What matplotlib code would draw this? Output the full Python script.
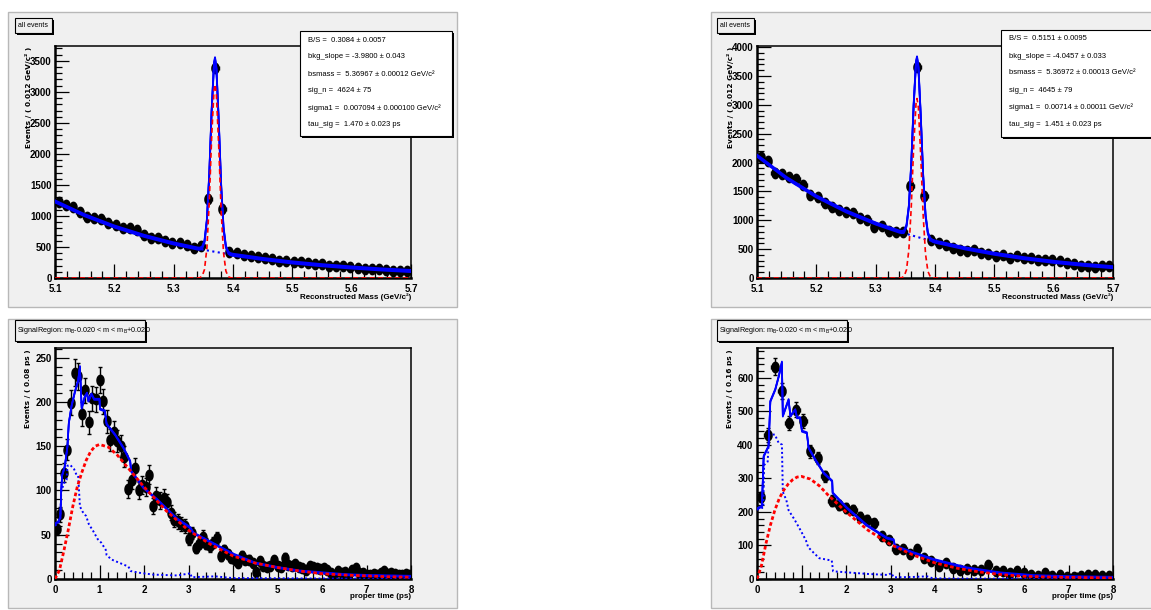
import numpy as np
import matplotlib
matplotlib.use("Agg")
import matplotlib.pyplot as plt
from matplotlib.patches import Rectangle
from matplotlib.path import Path
from matplotlib.ticker import MultipleLocator, FormatStrFormatter
from matplotlib.transforms import offset_copy
from matplotlib import font_manager

# ---------------- data ----------------
# mass fits: 50 bins of 0.012 GeV between 5.1 and 5.7
mass_lo, mass_bin = 5.1, 0.012
mass_left = [1230, 1170, 1140, 1060, 990, 970, 950, 890, 850, 810,
             800, 770, 700, 650, 640, 590, 560, 560, 530, 480,
             520, 1280, 3390, 1120, 420, 400, 370, 350, 340, 330,
             300, 280, 280, 265, 250, 240, 230, 220, 200, 190,
             190, 180, 160, 150, 150, 140, 130, 120, 110, 110]
mass_right = [2090, 2030, 1825, 1808, 1750, 1722, 1607, 1435, 1406, 1291,
              1234, 1176, 1148, 1119, 1033, 1004, 890, 901, 820, 803,
              800, 1595, 3656, 1423, 660, 603, 574, 516, 488, 476,
              488, 430, 413, 373, 402, 344, 373, 344, 344, 316,
              316, 304, 287, 258, 247, 200, 200, 189, 200, 200]

mass_fit_x = [5.10, 5.15, 5.20, 5.25, 5.30, 5.34, 5.344, 5.348, 5.352, 5.356,
              5.360, 5.364, 5.368, 5.3697, 5.372, 5.376, 5.380, 5.384, 5.388, 5.392,
              5.396, 5.40, 5.45, 5.50, 5.55, 5.60, 5.65, 5.70]
bkg_left = [1235, 1012, 830, 680, 557, 475, 468, 460, 453, 446,
            439, 432, 425, 422, 418, 412, 405, 399, 393, 386,
            380, 374, 307, 251, 206, 169, 138, 113]
sig_left = [0, 0, 0, 0, 0, 0.5, 4.5, 29, 139, 485,
            1227, 2261, 3032, 3120, 2960, 2105, 1089, 411, 113, 22,
            3, 0, 0, 0, 0, 0, 0, 0]
bkg_right = [2120, 1732, 1414, 1156, 944, 803, 790, 777, 764, 752,
             740, 729, 717, 712, 706, 694, 683, 672, 661, 651,
             640, 630, 515, 420, 343, 280, 229, 187]
sig_right = [0, 0, 0, 0, 0, 0.5, 5, 31, 144, 492,
             1233, 2262, 3023, 3110, 2953, 2108, 1098, 418, 116, 24,
             4, 0, 0, 0, 0, 0, 0, 0]

# proper time: left 100 bins of 0.08 ps, right 50 bins of 0.16 ps
time_left = [57, 73, 120, 146, 199, 233, 229, 186, 213, 177,
             204, 203, 225, 201, 178, 157, 166, 156, 150, 138,
             102, 112, 125, 100, 106, 104, 118, 82, 94, 89,
             92, 87, 75, 67, 65, 62, 60, 45, 52, 35,
             40, 48, 40, 37, 41, 46, 26, 33, 28, 24,
             21, 18, 26, 21, 22, 18, 8, 20, 15, 13,
             15, 21, 15, 13, 24, 16, 15, 17, 13, 12,
             10, 15, 13, 12, 11, 12, 10, 7, 5, 9,
             7, 8, 6, 10, 12, 7, 7, 5, 5, 6,
             4, 7, 9, 6, 7, 6, 5, 5, 6, 4]
time_right = [245, 430, 633, 560, 466, 505, 471, 381, 361, 306,
              234, 220, 212, 207, 185, 177, 167, 127, 117, 90,
              88, 76, 90, 63, 53, 40, 48, 33, 28, 30,
              28, 26, 43, 25, 23, 18, 23, 18, 13, 8,
              18, 10, 13, 6, 5, 8, 13, 11, 10, 8]

tl_tot_t = [0.00, 0.08, 0.12, 0.14, 0.16, 0.22, 0.28, 0.31, 0.37, 0.45,
            0.52, 0.56, 0.60, 0.67, 0.72, 0.75, 0.82, 0.88, 1.00, 1.01,
            1.12, 1.16, 1.35, 1.54, 1.69, 1.71, 1.99, 2.29, 2.74, 3.04,
            3.11, 3.56, 4.01, 4.50, 5.00, 5.50, 6.00, 6.50, 7.00, 7.50, 8.00]
tl_tot_v = [62, 65, 70, 100, 117, 127, 150, 176, 195, 212,
            224, 240, 193, 206, 210, 201, 209, 203, 203, 192,
            190, 175, 163, 148, 133, 122, 103, 90, 68, 58,
            52, 40, 28, 18, 13, 9, 7, 5, 4, 3.5, 3]
tl_sig_t = [0, 0.1, 0.2, 0.3, 0.4, 0.5, 0.6, 0.7, 0.8, 0.9, 1.0, 1.2, 1.4, 1.6,
            1.8, 2.0, 2.5, 3.0, 3.5, 4.0, 4.5, 5.0, 5.5, 6.0, 6.5, 7.0, 7.5, 8.0]
tl_sig_v = [0, 10, 32, 56, 82, 104, 120, 134, 144, 150, 152, 149, 140, 128,
            116, 104, 77, 55, 39, 26, 18, 13, 9, 6, 4.5, 3.5, 2.5, 2]
tl_bkg_t = [0.00, 0.08, 0.12, 0.14, 0.20, 0.26, 0.28, 0.34, 0.43, 0.48,
            0.52, 0.56, 0.62, 0.70, 0.76, 0.86, 0.96, 1.04, 1.14, 1.16,
            1.27, 1.46, 1.65, 1.70, 1.90, 2.20, 2.74, 3.00, 3.04, 3.07,
            3.60, 3.70, 4.00, 5.00, 6.00, 8.00]
tl_bkg_v = [60, 64, 68, 99, 108, 112, 128, 129, 124, 118,
            117, 82, 76, 71, 62, 54, 45, 41, 33, 27,
            22, 18, 14, 9, 7, 5, 4, 6, 7, 2,
            3, 2.5, 1, 0.8, 0.5, 0.3]

tr_tot_t = [0.00, 0.11, 0.15, 0.26, 0.30, 0.41, 0.49, 0.56, 0.58, 0.71,
            0.75, 0.86, 0.90, 0.97, 1.01, 1.12, 1.16, 1.31, 1.50, 1.69,
            1.70, 2.02, 2.47, 2.92, 3.07, 3.10, 3.52, 3.97, 4.72, 5.47,
            6.22, 6.97, 8.00]
tr_tot_v = [209, 217, 366, 396, 530, 565, 605, 647, 486, 535,
            486, 505, 481, 481, 441, 436, 391, 356, 316, 292,
            257, 212, 160, 122, 117, 98, 78, 58, 33, 18,
            10, 7, 5]
tr_sig_t = tl_sig_t
tr_sig_v = [0, 40, 105, 160, 205, 240, 265, 283, 296, 304, 306, 298, 278, 250,
            225, 200, 145, 103, 72, 48, 32, 21, 13, 8, 6, 5, 4, 3]
tr_bkg_t = [0.00, 0.10, 0.14, 0.16, 0.24, 0.27, 0.40, 0.49, 0.56, 0.58,
            0.66, 0.71, 0.84, 0.98, 1.10, 1.15, 1.26, 1.40, 1.68, 1.71,
            2.00, 2.50, 2.95, 3.02, 3.07, 3.50, 3.82, 3.95, 4.50, 8.00]
tr_bkg_v = [207, 212, 212, 340, 350, 430, 431, 405, 401, 260,
            235, 205, 178, 145, 115, 95, 80, 62, 55, 23,
            20, 15, 12, 18, 5, 6, 8, 2, 1, 0.5]

stats_left = ["B/S =  0.3084 \u00b1 0.0057",
              "bkg_slope = -3.9800 \u00b1 0.043",
              "bsmass =  5.36967 \u00b1 0.00012 GeV/c\u00b2",
              "sig_n =  4624 \u00b1 75",
              "sigma1 =  0.007094 \u00b1 0.000100 GeV/c\u00b2",
              "tau_sig =  1.470 \u00b1 0.023 ps"]
stats_right = ["B/S =  0.5151 \u00b1 0.0095",
               "bkg_slope = -4.0457 \u00b1 0.033",
               "bsmass =  5.36972 \u00b1 0.00013 GeV/c\u00b2",
               "sig_n =  4645 \u00b1 79",
               "sigma1 =  0.00714 \u00b1 0.00011 GeV/c\u00b2",
               "tau_sig =  1.451 \u00b1 0.023 ps"]

# ---------------- style ----------------
W, H = 1151, 610
names = {f.name for f in font_manager.fontManager.ttflist}
NARROW = "Liberation Sans Narrow" if "Liberation Sans Narrow" in names else "Liberation Sans"
plt.rcParams["font.family"] = [NARROW, "DejaVu Sans"]

PAD = "#f0f0f0"
BLUE = "#0000ff"
RED = "#ff0000"

fig = plt.figure(figsize=(W / 100, H / 100), dpi=100)
fig.patch.set_facecolor("white")


def fx(x):
    return x / W


def fy(y):
    return 1 - y / H


def rect(x0, y0, x1, y1, **kw):
    fig.add_artist(Rectangle((fx(x0), fy(y1)), (x1 - x0) / W, (y1 - y0) / H,
                             transform=fig.transFigure, **kw))


def shadow_box(x0, y0, x1, y1, face):
    rect(x0 + 2, y0 + 2, x1 + 2, y1 + 2, facecolor="black", edgecolor="none", zorder=5)
    rect(x0, y0, x1, y1, facecolor=face, edgecolor="black", lw=0.8, zorder=6)


th = np.linspace(0, 2 * np.pi, 41)
ELL = Path(np.column_stack([0.68 * np.cos(th), np.sin(th)]))


def make_axes(x0, y0, x1, y1):
    ax = fig.add_axes([fx(x0), fy(y1), (x1 - x0) / W, (y1 - y0) / H])
    ax.set_facecolor(PAD)
    return ax


def style(ax, xlim, ylim, xmaj, xmin, ymaj, ymin, xfmt):
    ax.set_xlim(xlim)
    ax.set_ylim(ylim)
    ax.xaxis.set_major_locator(MultipleLocator(xmaj))
    ax.xaxis.set_minor_locator(MultipleLocator(xmin))
    ax.yaxis.set_major_locator(MultipleLocator(ymaj))
    ax.yaxis.set_minor_locator(MultipleLocator(ymin))
    ax.xaxis.set_major_formatter(FormatStrFormatter(xfmt))
    ax.yaxis.set_major_formatter(FormatStrFormatter("%d"))
    ax.tick_params(which="both", direction="in", top=False, right=False, width=0.9)
    ax.tick_params(which="major", length=10, labelsize=7)
    ax.tick_params(axis="x", which="major", pad=4.5)
    ax.tick_params(axis="y", which="major", pad=2.5)
    ax.tick_params(which="minor", length=5)
    for lab in ax.get_xticklabels() + ax.get_yticklabels():
        lab.set_fontweight("bold")
    for s in ("left", "bottom"):
        ax.spines[s].set_linewidth(1.8)
    for s in ("top", "right"):
        ax.spines[s].set_linewidth(1.1)


def thick_line(ax, x, y, color, lw, spread):
    # wide in y, narrow in x, like the squeezed original
    for dy in (-spread, 0, spread):
        tr = offset_copy(ax.transData, fig=fig, x=0, y=dy, units="dots")
        ax.plot(x, y, color=color, lw=lw, transform=tr, zorder=4)


def data_points(ax, x, y, half):
    y = np.asarray(y, float)
    ax.errorbar(x, y, yerr=np.sqrt(y), xerr=half, fmt="none", ecolor="black",
                elinewidth=1.0, capsize=1.5, capthick=1.0, zorder=2)
    ax.plot(x, y, ls="none", marker=ELL, ms=7.5, color="black", zorder=2.5)


# pads
for (x0, y0, x1, y1) in [(8, 12, 457, 307), (8, 319, 457, 608),
                         (711, 12, 1165, 307), (711, 319, 1165, 608)]:
    rect(x0, y0, x1, y1, facecolor=PAD, edgecolor="#b8b8b8", lw=1.0, zorder=-1)


def mass_panel(x0, x1, vals, bkg, sig, ylim, stats, sbox):
    ax = make_axes(x0, 46, x1, 278)
    centers = mass_lo + mass_bin * (np.arange(len(vals)) + 0.5)
    data_points(ax, centers, vals, mass_bin / 2)
    bkg = np.asarray(bkg, float)
    sig = np.asarray(sig, float)
    ax.plot(mass_fit_x, bkg, color=BLUE, ls=":", lw=1.5, zorder=3)
    thick_line(ax, mass_fit_x, bkg + sig, BLUE, 1.3, 1.1)
    ax.plot(mass_fit_x, sig, color=RED, ls=(0, (3, 2)), lw=1.2, zorder=5)
    style(ax, (5.1, 5.7), ylim, 0.1, 0.02, 500, 100, "%.1f")
    bx0, by0, bx1, by1 = sbox
    shadow_box(bx0, by0, bx1, by1, "white")
    for i, s in enumerate(stats):
        fig.text(fx(bx0 + 8), fy(by0 + 9 + 17 * i), s, ha="left", va="center",
                 fontsize=5.5, fontweight="normal", zorder=7)
    fig.text(fx(x0 - 27), fy(47), "Events / ( 0.012 GeV/c\u00b2 )", rotation=90,
             ha="center", va="top", family="DejaVu Sans", fontweight="bold", fontsize=5.3)
    fig.text(fx(x1), fy(297), "Reconstructed Mass (GeV/c\u00b2)", ha="right", va="center",
             fontsize=5.8, fontweight="bold")
    shadow_box(x0 - 40, 18, x0 - 3, 33, PAD)
    fig.text(fx(x0 - 21.5), fy(25.5), "all events", ha="center", va="center",
             fontsize=5.0, fontweight="normal", zorder=7)
    return ax


def time_panel(x0, x1, vals, width, tot, sig, bkg, ylim, ymaj, ymin, ylabel):
    ax = make_axes(x0, 348, x1, 579)
    centers = width * (np.arange(len(vals)) + 0.5)
    data_points(ax, centers, vals, width / 2)
    thick_line(ax, tot[0], tot[1], BLUE, 1.2, 0.6)
    ax.plot(bkg[0], bkg[1], color=BLUE, ls=(0, (1, 1.3)), lw=1.4, zorder=3)
    ax.plot(sig[0], sig[1], color=RED, ls=(0, (1.3, 0.9)), lw=2.0, zorder=5)
    style(ax, (0, 8), ylim, 1, 0.2, ymaj, ymin, "%d")
    fig.text(fx(x0 - 27), fy(349), ylabel, rotation=90, ha="center", va="top",
             family="DejaVu Sans", fontweight="bold", fontsize=5.3)
    fig.text(fx(x1), fy(597), "proper time (ps)", ha="right", va="center",
             fontsize=5.8, fontweight="bold")
    shadow_box(x0 - 40, 320, x0 + 90, 341, PAD)
    fig.text(fx(x0 - 38), fy(330.5),
             r"SignalRegion: m$_\mathregular{B}$-0.020 < m < m$_\mathregular{B}$+0.020",
             ha="left", va="center", fontsize=5.2, fontweight="normal", zorder=7)
    return ax


mass_panel(55, 411, mass_left, bkg_left, sig_left, (0, 3740), stats_left, (300, 31, 452, 136))
mass_panel(757, 1113, mass_right, bkg_right, sig_right, (0, 4020), stats_right, (1001, 30, 1165, 137))

time_panel(55, 411, time_left, 0.08, (tl_tot_t, tl_tot_v), (tl_sig_t, tl_sig_v),
           (tl_bkg_t, tl_bkg_v), (0, 261), 50, 10, "Events / ( 0.08 ps )")
time_panel(757, 1113, time_right, 0.16, (tr_tot_t, tr_tot_v), (tr_sig_t, tr_sig_v),
           (tr_bkg_t, tr_bkg_v), (0, 689), 100, 20, "Events / ( 0.16 ps )")

fig.savefig("out.png", dpi=100, facecolor="white")
